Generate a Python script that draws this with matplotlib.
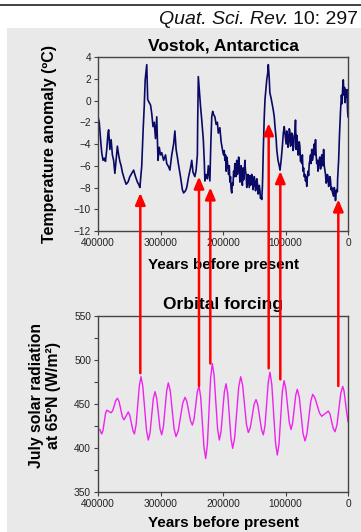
import numpy as np
import matplotlib
matplotlib.use('Agg')
import matplotlib.pyplot as plt
from matplotlib.patches import Rectangle, ConnectionPatch
from matplotlib.lines import Line2D
from matplotlib.text import Annotation

plt.rcParams['font.family'] = ['Liberation Sans', 'DejaVu Sans']

# Vostok temperature anomaly (years before present, deg C)
vostok_years = [400000, 398000, 396000, 394000, 392000, 390000, 388000, 386000, 384000, 383000,
                381000, 379000, 377000, 375000, 373000, 371000, 369000, 367000, 365000, 363000,
                361000, 358000, 355000, 352000, 349000, 346000, 343000, 340000, 337000, 335000,
                333000, 330000, 328000, 326000, 324500, 322000, 320500, 318000, 316000, 314000,
                312000, 310000, 308000, 306000, 304000, 302000, 300000, 298000, 295000, 292000,
                290000, 287000, 285000, 282000, 279000, 277000, 275000, 273000, 271500, 268000,
                265000, 263000, 260000, 258000, 255000, 252000, 250000, 248000, 245000, 243000,
                241000, 240500, 239500, 238000, 236000, 234000, 231500, 230000, 229000, 227000,
                225000, 223500, 221000, 219500, 218000, 216500, 215000, 213000, 211000, 209000,
                207500, 205000, 203000, 201000,
                200000, 199000, 198000, 197000, 196000, 195000, 194000, 193000, 192000, 191000,
                190000, 189000, 188000, 187000, 186000, 185000, 184000, 183000, 182000, 181000,
                180000, 179000, 178000, 177000, 176000, 175000, 174000, 173000, 172000, 171000,
                170000, 169000, 168000, 167000, 166000, 165000, 164000, 163000, 162000, 161000,
                160000, 159000, 158000, 157000, 156000, 155000, 154000, 153000, 152000, 151000,
                150000, 149000, 148000, 147000, 146000, 145000, 144000, 143000, 142000, 141000,
                140000, 139000, 138000, 137000,
                136500, 135500, 134000, 132800, 130000, 128500, 127500, 126000, 125000, 123000,
                121000, 119500, 118000, 116800, 115000, 114000, 112000, 110000, 108800, 107000,
                105000, 103500, 102000,
                100000, 99000, 98000, 97000, 96000, 95000, 94000, 93000, 92000, 91000,
                90000, 89000, 88000, 87000, 86000, 85000, 84000, 83000, 82000, 81000,
                80000, 79000, 78000, 77000, 76000, 75000, 74000, 73000, 72000, 71000,
                70000, 69000, 68000, 67000, 66000, 65000, 64000, 63000, 62000, 61000,
                60000, 59000, 58000, 57000, 56000, 55000, 54000, 53000, 52000, 51000,
                50000, 49000, 48000, 47000, 46000, 45000, 44000, 43000, 42000, 41000,
                40000, 39000, 38000, 37000, 36000, 35000, 34000, 33000, 32000, 31000,
                30000, 29000, 28000, 27000, 26000, 25000, 24000, 23000, 22000, 21000,
                20000, 19000, 18000, 17000,
                16600, 15000, 13500, 12000, 10500, 9500, 8500, 7500, 6500, 5500,
                4500, 3500, 2500, 1500, 800, 0]
vostok_temp = [-1.5, -2.0, -3.5, -4.8, -5.5, -5.3, -5.6, -4.5, -3.0, -2.7,
               -4.5, -3.6, -5.0, -5.5, -6.7, -5.5, -4.2, -5.0, -5.6, -6.0,
               -6.6, -7.2, -7.7, -7.5, -7.0, -6.7, -6.4, -7.0, -7.5, -7.7,
               -8.0, -6.0, -3.0, -0.5, 1.9, 3.3, 0.1, -0.2, -0.4, -1.2,
               -2.4, -2.0, -3.5, -1.5, -5.5, -4.3, -5.0, -4.8, -5.5, -5.0,
               -5.8, -6.1, -6.4, -5.0, -4.0, -2.8, -4.5, -5.2, -5.8, -7.0,
               -8.2, -8.5, -8.3, -8.0, -7.0, -6.2, -5.5, -6.6, -7.0, -6.4,
               -5.0, -2.0, 2.2, 1.0, -0.5, -1.8, -3.6, -5.5, -7.4, -6.8,
               -7.2, -6.0, -7.4, -4.0, -1.5, -1.0, -1.3, -1.5, -2.2, -2.0,
               -3.0, -2.5, -3.8, -4.5,
               -4.8, -5.0, -4.6, -5.5, -5.0, -6.5, -5.2, -5.6, -6.2, -6.8,
               -6.0, -7.5, -7.0, -8.2, -8.5, -7.6, -7.8, -6.5, -7.0, -5.8,
               -6.0, -7.0, -5.5, -6.8, -6.5, -5.2, -5.8, -7.5, -7.2, -6.0,
               -7.0, -7.8, -6.2, -7.3, -6.6, -5.5, -6.5, -6.8, -8.0, -7.6,
               -6.8, -7.4, -8.0, -6.9, -7.8, -7.6, -6.8, -7.2, -8.2, -7.8,
               -7.0, -7.4, -8.3, -8.0, -7.2, -7.6, -8.6, -8.5, -7.8, -8.2,
               -9.0, -8.8, -9.1, -8.0,
               -7.0, -4.5, -1.5, 0.1, 1.9, 2.5, 3.3, 2.0, 0.7, 0.2,
               -0.4, -0.9, -1.5, -2.4, -3.5, -4.5, -5.5, -6.0, -6.4, -5.5,
               -4.2, -3.0, -2.4,
               -3.5, -4.0, -2.8, -3.2, -4.3, -3.8, -2.6, -2.8, -4.2, -4.0,
               -3.0, -3.3, -4.6, -4.3, -3.2, -3.0, -1.8, -4.5, -3.2, -3.8,
               -5.0, -5.0, -3.8, -4.2, -5.6, -5.5, -5.8, -5.0, -6.5, -6.2,
               -7.0, -6.8, -7.4, -7.0, -7.9, -7.0, -6.5, -6.9, -5.8, -5.5,
               -5.0, -5.8, -4.5, -5.5, -5.2, -4.4, -4.0, -5.0, -3.6, -5.0,
               -5.8, -5.5, -6.5, -6.0, -5.4, -5.2, -6.3, -6.0, -5.0, -5.0,
               -6.0, -4.5, -6.0, -6.4, -6.8, -7.6, -7.4, -6.8, -7.0, -7.9,
               -7.7, -7.0, -7.3, -8.2, -8.0, -8.4, -8.6, -8.8, -8.0, -8.3,
               -9.2, -8.5, -8.2, -8.4,
               -7.2, -5.5, -3.0, -1.0, 0.5, -0.3, 1.2, 1.9, 0.5, 1.2,
               -0.2, 1.0, 0.3, 1.0, -0.8, -1.5]

# July insolation at 65N (W/m2)
orb_years = [397000, 395500, 394000, 392000, 390000, 388000, 386000, 382500, 379000, 376500,
             374000, 371500, 369000, 366400, 363700, 361000, 358400, 355000, 351500, 349100,
             346600, 344200, 341800, 339100, 336500, 333800, 331200, 328300, 325300, 322400,
             319500, 316800, 314100, 311500, 308800, 306100, 303400, 300800, 298100, 295400,
             292800, 290100, 287500, 284400, 281300, 278300, 275200, 271600, 268000, 264400,
             260800, 257900, 254900, 252000, 249100, 246400, 243700, 241100, 238400, 235700,
             233000, 230400, 227700, 225000, 222400, 219800, 217100, 214300, 211500, 208700,
             205900, 203200, 200500, 197900, 195200, 192500, 189800, 187200, 184500, 181300,
             178100, 174900, 171700, 168600, 165600, 162500, 159500, 156400, 153300, 150300,
             147200, 144300, 141300, 138400, 135500, 132800, 130100, 127500, 124800, 121900,
             119000, 116000, 113100, 110400, 107700, 105100, 102400, 99600, 96800, 94000,
             91200, 88700, 86200, 83600, 81100, 78000, 75000, 71900, 68800, 65700,
             62600, 59600, 56500, 52900, 49300, 45700, 42100, 36800, 31500, 28800,
             26200, 23500, 20800, 17700, 14700, 11600, 8500, 6400, 4300, 2000,
             0]
orb_flux = [421, 418, 416, 420, 429.5, 439, 443, 441.5, 440, 442.5,
            448, 454, 456.5, 453, 444, 435.5, 432, 436.5, 441, 437,
            428.5, 420, 416, 426, 448.5, 471, 481, 470, 445, 420,
            409, 417, 436.5, 456, 464, 456.5, 439.5, 422, 415, 424,
            444.5, 465, 474, 465, 443.5, 422, 413, 419.5, 435, 451,
            457.6, 453, 442, 431, 426, 432.5, 448, 464, 470.5, 458,
            429, 400.5, 388, 404, 442, 480, 496, 483, 452.5, 422,
            409, 418.5, 441, 463.5, 473, 462, 436, 410.5, 399.6, 412,
            440, 469, 481, 471.5, 449, 427, 417.6, 423, 436, 449.5,
            455, 449, 435, 421, 415, 425.5, 450.5, 475.5, 486, 472,
            439, 406, 392, 404.5, 434, 464, 476.5, 468, 449, 429.5,
            421, 428, 444, 460, 466.7, 458, 437.5, 416.5, 408, 416,
            434.5, 453, 461, 457, 448.5, 440, 436, 439, 442, 438.5,
            430, 422, 418.5, 426, 444, 462, 470, 465, 453, 440,
            430]

# red arrows: year, tip in Vostok panel (deg C), base in orbital panel (W/m2)
arrow_years = [332300, 238400, 220300, 126900, 108300, 15500]
arrow_tips = [-8.5, -7.0, -8.0, -2.1, -6.5, -9.1]
arrow_bases = [485, 470.5, 496, 490.5, 478, 470.5]

W, H = 361, 532
fig = plt.figure(figsize=(W / 100, H / 100), dpi=100)
fig.patch.set_facecolor('white')

bg = '#e9e9e9'
fig.add_artist(Rectangle((7 / W, 0), 1 - 7 / W, 1 - 28 / H, transform=fig.transFigure,
                         facecolor=bg, edgecolor='none', zorder=-10))
fig.add_artist(Line2D([0, 1], [1 - 5 / H, 1 - 5 / H], transform=fig.transFigure,
                      color='#333333', lw=1.3))

# citation, italic journal name + plain volume/page
t1 = fig.text(358 / W, 1 - 28 / H, '10: 297', ha='right', va='bottom', fontsize=14, color='#111111')
fig.add_artist(Annotation('Quat. Sci. Rev.', xy=(0, 0), xycoords=t1,
                          xytext=(-3.5, 0), textcoords='offset points',
                          ha='right', va='bottom', fontsize=14,
                          style='italic', color='#111111'))

ax1 = fig.add_axes([98 / W, 1 - 231 / H, 250 / W, 174 / H])
ax2 = fig.add_axes([98 / W, 1 - 492 / H, 250 / W, 176 / H])

for ax in (ax1, ax2):
    ax.set_facecolor(bg)
    for s in ax.spines.values():
        s.set_color('#444444')
        s.set_linewidth(1.0)
    ax.set_xlim(400000, 0)
    ax.set_xticks([400000, 300000, 200000, 100000, 0])
    ax.set_xticklabels(['400000', '300000', '200000', '100000', '0'])
    ax.tick_params(direction='out', length=3, width=0.8, color='#444444',
                   labelsize=7.3, labelcolor='#222222', pad=2)

ax1.plot(vostok_years, vostok_temp, color='#0a0a66', lw=1.2)
ax1.set_ylim(-12, 4)
ax1.set_yticks(np.arange(-12, 5, 2))
ax1.set_title('Vostok, Antarctica', fontsize=12.5, fontweight='bold', pad=5)
ax1.set_ylabel('Temperature anomaly (ºC)', fontsize=11.5, fontweight='bold', labelpad=12)
ax1.set_xlabel('Years before present', fontsize=11, fontweight='bold', labelpad=7.5)

ax2.plot(orb_years, orb_flux, color='#ee22ee', lw=1.0)
ax2.set_ylim(350, 550)
ax2.set_yticks([350, 400, 450, 500, 550])
ax2.set_yticks([375, 425, 475, 525], minor=True)
ax2.tick_params(which='minor', direction='out', length=3, width=0.8, color='#444444')
ax2.set_title('Orbital forcing', fontsize=12.5, fontweight='bold', pad=5)
ax2.set_ylabel('July solar radiation\nat 65ºN (W/m²)', fontsize=11.3, fontweight='bold',
               linespacing=1.15)
ax2.yaxis.set_label_coords(-0.148, 0.55)
ax2.set_xlabel('Years before present', fontsize=11, fontweight='bold', labelpad=5)

for yr, tip, base in zip(arrow_years, arrow_tips, arrow_bases):
    cp = ConnectionPatch(xyA=(yr, base), coordsA=ax2.transData,
                         xyB=(yr, tip), coordsB=ax1.transData,
                         arrowstyle='-|>,head_length=0.7,head_width=0.3',
                         mutation_scale=10, color='#ff0000', lw=1.8,
                         shrinkA=0, shrinkB=0, zorder=5)
    fig.add_artist(cp)

fig.savefig('out.png', dpi=100)
